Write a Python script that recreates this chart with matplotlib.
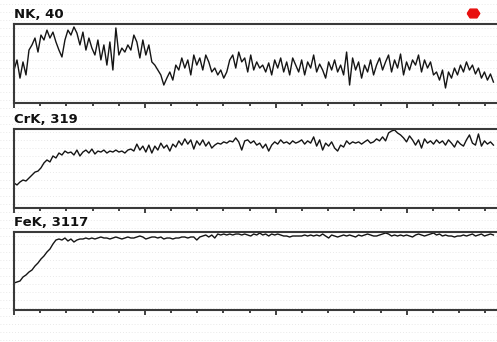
import numpy as np
import matplotlib
matplotlib.use("Agg")
import matplotlib.pyplot as plt
from matplotlib.ticker import MultipleLocator
from matplotlib.lines import Line2D

titles = ["NK, 40", "CrK, 319", "FeK, 3117"]
maxima = [40, 319, 3117]

nk = [16.7, 21.8, 12.6, 20.8, 14.2, 26.8, 29.4, 32.9, 25.8, 34.4,
      31.9, 36.9, 32.9, 35.9, 30.9, 26.8, 23.3, 31.9, 36.9, 34.4,
      38.5, 35.4, 29.4, 35.9, 26.8, 32.9, 27.8, 24.3, 31.9, 21.8,
      29.4, 19.2, 30.9, 16.7, 38.0, 24.3, 27.8, 25.8, 29.4, 26.8,
      34.4, 30.9, 22.8, 31.9, 24.3, 29.4, 20.8, 19.2, 16.7, 14.2,
      9.1, 12.6, 15.7, 11.6, 19.2, 16.7, 22.8, 17.7, 21.8, 14.2,
      24.3, 19.2, 22.8, 16.7, 24.3, 20.8, 15.7, 17.7, 14.2, 16.7,
      12.6, 15.7, 21.8, 24.3, 17.7, 25.8, 20.8, 22.8, 15.7, 24.3,
      16.7, 20.8, 17.7, 19.2, 15.7, 20.3, 14.2, 21.8, 17.7, 22.8,
      15.7, 20.8, 14.2, 22.8, 19.2, 15.7, 21.8, 14.2, 20.8, 17.7,
      24.3, 15.7, 19.7, 16.7, 12.6, 20.8, 16.7, 21.8, 15.7, 19.2,
      14.2, 25.8, 9.1, 22.8, 16.7, 20.8, 12.6, 19.2, 15.7, 21.8,
      14.2, 19.2, 22.8, 16.7, 20.8, 24.3, 15.7, 21.8, 17.7, 24.8,
      14.2, 20.8, 16.7, 21.8, 19.2, 24.3, 15.7, 21.8, 17.7, 20.8,
      14.2, 15.7, 11.6, 16.7, 7.6, 15.7, 12.6, 17.7, 14.2, 19.2,
      15.7, 20.8, 16.7, 19.2, 14.7, 17.7, 12.6, 15.7, 11.6, 14.7,
      10.6]

crk = [101, 93, 105, 113, 109, 121, 133, 145, 149, 162,
       182, 194, 186, 210, 202, 222, 214, 230, 222, 226,
       214, 234, 210, 226, 234, 222, 238, 218, 230, 226,
       234, 222, 230, 226, 234, 226, 230, 222, 234, 238,
       230, 258, 234, 250, 226, 254, 222, 250, 234, 262,
       242, 254, 230, 258, 246, 271, 254, 279, 258, 275,
       238, 271, 254, 275, 250, 267, 242, 254, 262, 258,
       267, 262, 271, 267, 283, 267, 234, 271, 275, 262,
       271, 254, 262, 242, 258, 230, 254, 267, 258, 275,
       262, 267, 258, 271, 262, 267, 275, 258, 271, 262,
       287, 250, 275, 234, 262, 250, 267, 242, 230, 254,
       246, 271, 258, 267, 262, 267, 258, 267, 275, 262,
       267, 279, 271, 287, 271, 303, 311, 315, 303, 295,
       283, 267, 291, 275, 254, 275, 242, 279, 262, 271,
       258, 275, 262, 271, 254, 275, 262, 246, 271, 258,
       250, 275, 295, 262, 254, 299, 250, 271, 258, 267,
       254]

fek = [1079, 1119, 1159, 1319, 1399, 1518, 1598, 1758, 1878, 2038,
       2158, 2318, 2438, 2638, 2797, 2837, 2797, 2877, 2757, 2837,
       2717, 2797, 2837, 2837, 2877, 2837, 2877, 2837, 2877, 2917,
       2877, 2877, 2837, 2877, 2917, 2877, 2837, 2877, 2917, 2877,
       2877, 2917, 2957, 2917, 2837, 2877, 2917, 2917, 2877, 2917,
       2837, 2877, 2877, 2837, 2877, 2877, 2917, 2917, 2877, 2917,
       2917, 2797, 2917, 2957, 2997, 2917, 2997, 2877, 3037, 2997,
       3037, 2997, 3037, 2997, 3037, 3037, 2997, 3037, 2997, 2957,
       3037, 2997, 3077, 2997, 3037, 2957, 3037, 2997, 3037, 2997,
       2957, 2957, 2917, 2957, 2957, 2957, 2957, 2997, 2957, 2997,
       2957, 2997, 2957, 3037, 2957, 2877, 2997, 2957, 2917, 2957,
       2997, 2957, 2997, 2957, 2917, 2997, 2957, 2997, 3037, 2997,
       2957, 2957, 2997, 3037, 3077, 3037, 2957, 2997, 2957, 2997,
       2957, 2997, 2957, 2917, 2997, 3037, 2997, 2957, 2997, 3037,
       3077, 2997, 3037, 2957, 2997, 2957, 2957, 2917, 2957, 2957,
       2997, 2957, 2997, 3037, 2957, 2997, 3037, 2957, 2997, 3037,
       2997]

series = [nk, crk, fek]

W, H = 497, 342
fig = plt.figure(figsize=(W / 100, H / 100), dpi=100)
fig.patch.set_facecolor("white")

# faint dotted background texture
for yy in range(4, H, 8):
    fig.add_artist(Line2D([0, 1], [1 - yy / H, 1 - yy / H], transform=fig.transFigure,
                          color="#e2e2e2", lw=0.6, ls=(0, (1, 2.5)), zorder=0))

panels = [(24, 103), (129, 208), (232, 310)]
left_px = 14
span_units = 483 / 26.2  # number of tick intervals visible

for k, ((top, bot), vals, ttl, vmax) in enumerate(zip(panels, series, titles, maxima)):
    ax = fig.add_axes([left_px / W, 1 - bot / H, (W - left_px) / W + 0.01, (bot - top) / H])
    ax.patch.set_alpha(0)
    n = len(vals)
    x = np.arange(n) * (span_units / (n + 0.1))
    ax.plot(x, vals, color="#151515", lw=1.0)
    ax.set_xlim(0, span_units + 0.2)
    ax.set_ylim(0, vmax)
    ax.set_yticks([])
    ax.xaxis.set_major_locator(MultipleLocator(5))
    ax.xaxis.set_minor_locator(MultipleLocator(1))
    ax.tick_params(axis="x", which="major", direction="out", length=3.8, width=1.3,
                   color="#333333", labelbottom=False)
    ax.tick_params(axis="x", which="minor", direction="out", length=1.8, width=1.3,
                   color="#333333")
    for s in ["top", "bottom", "left"]:
        ax.spines[s].set_color("#3a3a3a")
        ax.spines[s].set_linewidth(1.5)
    ax.spines["right"].set_visible(False)
    fig.text(left_px / W, 1 - (top - 6) / H, ttl, fontsize=9.5, fontweight="bold",
             family="DejaVu Sans", color="#111111", ha="left", va="baseline")

# red marker
blob = [(-1, 0), (-0.55, 0.7), (0.55, 0.7), (1, 0), (0.55, -0.7), (-0.55, -0.7), (-1, 0)]
fig.add_artist(Line2D([473 / W], [1 - 13 / H], transform=fig.transFigure, marker=blob,
                      markersize=9, color="#e8100f", lw=0))

fig.savefig("out.png", dpi=100, facecolor="white")
